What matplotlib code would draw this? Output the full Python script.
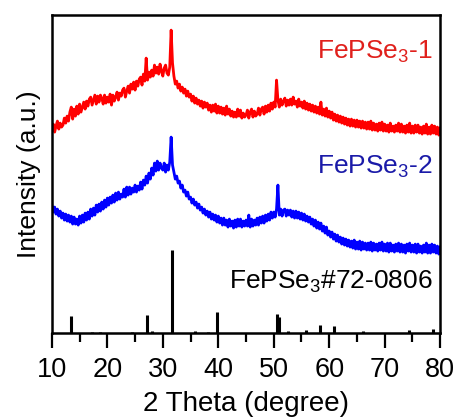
import numpy as np
import matplotlib
matplotlib.use("Agg")
from matplotlib import pyplot as plt

plt.rcParams['font.family'] = ['Liberation Sans', 'DejaVu Sans']
plt.rcParams['mathtext.fontset'] = 'custom'
plt.rcParams['mathtext.rm'] = 'Liberation Sans'

# XRD scans, 2 theta from 10 to 80 in 0.25 deg steps (intensity in arbitrary units)
theta_start = 10.0
theta_step = 0.25

fepse3_1 = [
    203, 209, 201, 207,  212, 204, 210, 206,  208, 215, 210, 217,  212, 221, 226, 214,
    224, 217, 227, 219,  229, 221, 226, 231,  224, 232, 227, 234,  236, 228, 233, 238,
    229, 237, 231, 238,  235, 229, 238, 230,  236, 231, 239, 228,  238, 232, 236, 241,
    233, 240, 237, 243,  245, 236, 242, 247,  240, 249, 244, 251,  243, 252, 247, 254,
    256, 248, 259, 252,  275, 253, 261, 256,  263, 257, 268, 260,  266, 259, 269, 262,
    257, 265, 268, 260,  258, 266, 303, 270,  257, 249, 252, 245,  249, 242, 246, 240,
    244, 237, 242, 236,  239, 232, 237, 230,  235, 229, 233, 227,  232, 225, 231, 226,
    230, 223, 228, 221,  228, 222, 229, 220,  227, 220, 226, 219,  225, 218, 227, 219,
    224, 217, 222, 216,  221, 216, 224, 217,  223, 215, 220, 216,  218, 223, 215, 221,
    224, 216, 222, 217,  219, 225, 218, 224,  226, 219, 227, 221,  228, 222, 230, 224,
    231, 226, 253, 233,  226, 234, 228, 232,  235, 227, 233, 228,  234, 228, 236, 229,
    232, 226, 234, 227,  231, 225, 232, 224,  230, 223, 229, 222,  228, 221, 227, 220,
    226, 219, 231, 218,  224, 217, 225, 216,  222, 215, 221, 213,  219, 212, 218, 211,
    217, 210, 216, 209,  215, 208, 214, 207,  214, 207, 213, 206,  213, 206, 212, 205,
    212, 205, 211, 204,  211, 204, 212, 203,  210, 203, 209, 202,  210, 203, 211, 202,
    209, 202, 208, 201,  210, 202, 207, 201,  208, 202, 210, 201,  209, 201, 207, 200,
    208, 201, 210, 200,  207, 200, 208, 201,  208, 200, 206, 199,  207, 200, 209, 199,
    206, 199, 208, 200,  207, 199, 206, 198,  205,
]

fepse3_2 = [
    128, 121, 126, 119,  124, 117, 122, 115,  120, 113, 119, 112,  118, 111, 117, 109,
    116, 109, 114, 108,  117, 110, 118, 111,  120, 113, 121, 114,  124, 117, 125, 118,
    128, 121, 129, 122,  131, 124, 133, 126,  135, 128, 136, 130,  138, 131, 140, 133,
    141, 134, 139, 136,  144, 136, 146, 138,  146, 139, 145, 141,  148, 141, 147, 143,
    151, 144, 153, 148,  157, 150, 160, 154,  165, 158, 170, 162,  172, 163, 170, 165,
    163, 170, 161, 168,  163, 171, 196, 168,  161, 154, 157, 150,  152, 145, 148, 141,
    143, 137, 141, 134,  136, 130, 134, 128,  131, 125, 129, 123,  126, 120, 124, 118,
    122, 116, 121, 114,  119, 113, 118, 111,  117, 110, 115, 108,  115, 108, 113, 106,
    114, 107, 112, 105,  113, 106, 114, 107,  114, 106, 112, 107,  113, 107, 118, 106,
    114, 107, 113, 108,  115, 108, 116, 110,  117, 110, 118, 112,  119, 113, 121, 115,
    121, 116, 124, 148,  118, 124, 117, 123,  124, 117, 123, 118,  123, 116, 122, 115,
    122, 115, 121, 114,  120, 113, 119, 112,  117, 111, 116, 109,  114, 107, 113, 105,
    111, 104, 110, 102,  107, 100, 106, 98,   102, 96, 101, 94,    99, 92, 98, 91,
    96, 89, 95, 88,      94, 87, 93, 86,      92, 85, 93, 84,      91, 84, 92, 83,
    91, 84, 90, 83,      90, 83, 91, 82,      90, 83, 89, 82,      90, 83, 91, 82,
    89, 82, 90, 81,      90, 82, 88, 81,      89, 82, 90, 81,      89, 81, 88, 80,
    89, 82, 90, 81,      88, 81, 89, 80,      89, 81, 87, 80,      88, 81, 90, 80,
    88, 80, 89, 81,      88, 80, 87, 79,      86,
]

# standard card peaks
ref_pos = [13.4, 17.2, 18.7, 24.4, 27.1, 28.0, 31.6, 35.8, 38.1, 39.8,
           50.5, 51.0, 52.6, 55.8, 58.3, 60.9, 66.1, 74.4, 78.7]
ref_int = [17, 1, 1, 1, 18, 2, 83, 2, 1, 21,
           19, 16, 2, 3, 8, 7, 2, 3, 4]

x1 = theta_start + theta_step * np.arange(len(fepse3_1))
x2 = theta_start + theta_step * np.arange(len(fepse3_2))

fig = plt.figure(figsize=(4.59, 4.2), dpi=100)
ax = fig.add_axes([0.113, 0.207, 0.846, 0.757])

ax.plot(x1, fepse3_1, color='#ff0000', lw=2.0)
ax.plot(x2, fepse3_2, color='#0000ff', lw=2.0)
ax.vlines(ref_pos, 0, ref_int, color='black', lw=2.2)

fs = 19
ax.text(78.7, 275, r'FePSe$_\mathregular{3}$-1', color='#e0201c', fontsize=fs,
        ha='right', va='baseline')
ax.text(78.7, 160, r'FePSe$_\mathregular{3}$-2', color='#1a1aa8', fontsize=fs,
        ha='right', va='baseline')
ax.text(78.7, 45, r'FePSe$_\mathregular{3}$#72-0806', color='black', fontsize=fs,
        ha='right', va='baseline')

ax.set_xlim(10, 80)
ax.set_ylim(0, 318)
ax.set_xticks(np.arange(10, 81, 10))
ax.set_xticks(np.arange(15, 80, 10), minor=True)
ax.set_yticks([])
ax.tick_params(axis='x', which='major', direction='out', length=11, width=1.6,
               labelsize=19.5, pad=6)
ax.tick_params(axis='x', which='minor', direction='out', length=6.5, width=1.6)
for s in ax.spines.values():
    s.set_linewidth(1.8)

ax.set_xlabel('2 Theta (degree)', fontsize=20, labelpad=6)
ax.set_ylabel('Intensity (a.u.)', fontsize=fs, labelpad=8)

fig.savefig('out.png', dpi=100)
